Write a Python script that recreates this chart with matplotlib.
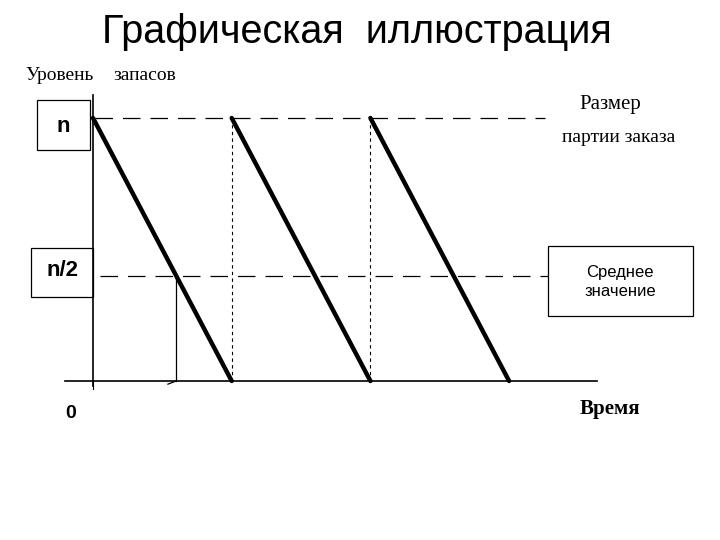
import numpy as np
import matplotlib
matplotlib.use("Agg")
import matplotlib.pyplot as plt
from matplotlib.patches import Rectangle

# inventory saw-tooth: peaks at order size, drops to zero each cycle
cycle_start = [0.0, 1.0, 2.0]
cycle_end = [1.0, 2.0, 3.0]
order_size = 1.0
mean_level = 0.4          # where the "n/2" line is drawn in the picture
mean_cross = 0.6          # time where first drop crosses that line
ref_end = 3.26            # right end of the dashed reference lines

W, H = 720, 540
fig = plt.figure(figsize=(7.2, 5.4), dpi=100)
ax = fig.add_axes([0, 0, 1, 1])
ax.axis("off")

# map: t=0 -> px 93, 1 unit = 138.7 px ; level 0 -> px 381, level 1 -> px 118
sx, x0 = 138.7, 93
sy, y0 = 263.0, 381
ax.set_xlim(-x0 / sx, (W - x0) / sx)
ax.set_ylim(-(H - y0) / sy, y0 / sy)

def fx(px):
    return px / W

def fy(py):
    return 1 - py / H

# axes
ax.plot([-0.202, 3.634], [0, 0], color="black", lw=1.2)
ax.plot([0, 0], [-0.02, 1.087], color="black", lw=1.2)

# reference dashed lines
ax.plot([0.014, ref_end], [order_size, order_size], color="black", lw=0.9,
        dashes=(14, 8))
ax.plot([0.05, ref_end + 0.02], [mean_level, mean_level], color="black",
        lw=0.9, dashes=(14, 8))

# vertical dotted lines at reorder moments
for t in cycle_start[1:]:
    ax.plot([t, t], [order_size, 0], color="black", lw=0.8, dashes=(3, 3))

# thin vertical at mean crossing
ax.plot([mean_cross, mean_cross], [mean_level, 0], color="black", lw=0.9)
ax.plot([mean_cross - 0.06, mean_cross], [-0.012, 0], color="black", lw=0.9)
ax.plot([0, 0], [0, -0.03], color="black", lw=0.8)

# saw-tooth
for a, b in zip(cycle_start, cycle_end):
    ax.plot([a, b], [order_size, 0], color="black", lw=3.2,
            solid_capstyle="round")

# boxes
for (x, y, w, h) in [(37, 100, 53, 50), (31, 248, 62, 49), (548, 246, 145, 70)]:
    fig.patches.append(Rectangle((fx(x), fy(y + h)), w / W, h / H,
                                 transform=fig.transFigure, fill=False,
                                 edgecolor="black", lw=0.9))

sans = "Liberation Sans"
serif = "Liberation Serif"
fig.text(fx(357), fy(32), "Графическая  иллюстрация", family=sans,
         fontsize=28.5, ha="center", va="center")
fig.text(fx(63), fy(127), "n", family=sans, fontsize=16, fontweight="bold",
         ha="center", va="center")
fig.text(fx(62), fy(271), "n/2", family=sans, fontsize=16, fontweight="bold",
         ha="center", va="center")
fig.text(fx(71), fy(413), "0", family=sans, fontsize=14, fontweight="bold",
         ha="center", va="center")
fig.text(fx(620), fy(282), "Среднее\nзначение", family=sans, fontsize=12,
         ha="center", va="center", linespacing=1.3)
fig.text(fx(25), fy(75), "Уровень", family=serif, fontsize=14,
         ha="left", va="center")
fig.text(fx(113), fy(75), "запасов", family=serif, fontsize=14,
         ha="left", va="center")
fig.text(fx(610), fy(105), "Размер", family=serif, fontsize=15,
         ha="center", va="center")
fig.text(fx(619), fy(138), "партии заказа", family=serif, fontsize=14,
         ha="center", va="center")
fig.text(fx(610), fy(409), "Время", family=serif, fontsize=15,
         fontweight="bold", ha="center", va="center")

fig.savefig("out.png", dpi=100, facecolor="white")
